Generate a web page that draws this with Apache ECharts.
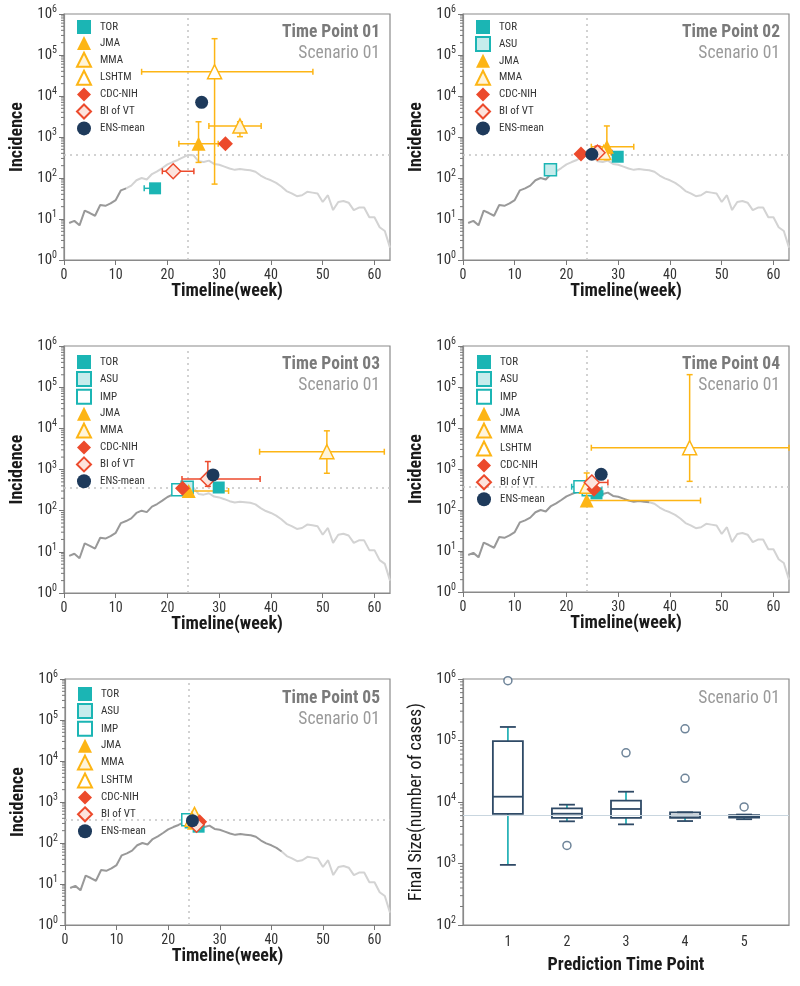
<!DOCTYPE html>
<html><head><meta charset="utf-8">
<script src="https://cdn.jsdelivr.net/npm/echarts@6/dist/echarts.min.js"></script>
<style>html,body{margin:0;padding:0;background:#fff}#c{width:800px;height:986px}</style>
</head><body><div id="c"></div>
<script>
// ---------------- data ----------------
const weeks = [1,2,3,4,5,6,7,8,9,10,11,12,13,14,15,16,17,18,19,20,21,22,23,24,25,26,27,28,29,30,31,32,33,34,35,36,37,38,39,40,41,42,43,44,45,46,47,48,49,50,51,52,53,54,55,56,57,58,59,60,61,62,63];
const incidence = [8,9,7,16,14,12,22,21,24,29,50,56,65,88,100,92,125,145,175,215,245,275,320,365,360,255,245,265,220,210,190,170,158,165,160,155,142,115,98,88,76,62,48,42,36,38,46,44,42,26,38,16.5,26,27.5,25,16.5,19,19,11,11,6.3,5.1,2];
const observedUntil = [12, 18, 24, 36, 42];
const peakWeek = 24;
const peakIncidence = 365;
const panelTitles = ['Time Point 01','Time Point 02','Time Point 03','Time Point 04','Time Point 05'];
const scenarioLabel = 'Scenario 01';

// [model, week, incidence, weekLow, weekHigh, incLow, incHigh]
const tp1Points = [
  ['TOR', 17.6, 56, 15.5, 17.6, null, null],
  ['JMA', 26, 680, 22.2, 29.8, 240, 2350],
  ['MMA', 34, 1860, 28, 38.1, 1020, 2350],
  ['LSHTM', 29.1, 39000, 15, 48.1, 71, 250000],
  ['CDC-NIH', 31.2, 680, null, null, null, null],
  ['BI of VT', 21.1, 146, 19, 25.1, null, null],
  ['ENS-mean', 26.6, 7000, null, null, null, null]
];
const tp2Points = [
  ['TOR', 29.9, 330, null, null, null, null],
  ['ASU', 16.9, 158, null, null, null, null],
  ['JMA', 27.8, 580, 24.8, 33, 280, 1860],
  ['MMA', 27.2, 420, 26, 28.6, 285, 520],
  ['CDC-NIH', 22.8, 385, null, null, null, null],
  ['BI of VT', 26.0, 415, 25, 28.8, 300, 600],
  ['ENS-mean', 24.9, 380, null, null, null, null]
];
const tp3Points = [
  ['TOR', 29.9, 365, null, null, null, null],
  ['ASU', 23.8, 370, null, null, null, null],
  ['IMP', 22.0, 320, null, null, null, null],
  ['JMA', 24.1, 300, 23, 31.8, null, null],
  ['MMA', 50.8, 2700, 37.8, 61.9, 810, 8700],
  ['CDC-NIH', 22.9, 350, null, null, null, null],
  ['BI of VT', 27.8, 590, 22.8, 37.9, 390, 1560],
  ['ENS-mean', 28.8, 740, null, null, null, null]
];
const tp4Points = [
  ['TOR', 25.8, 255, 24.5, 27, null, null],
  ['ASU', 24.2, 310, null, null, null, null],
  ['IMP', 22.6, 370, 21, 24, null, null],
  ['JMA', 23.9, 170, 23.9, 45.9, null, 800],
  ['MMA', 23.9, 380, null, null, null, null],
  ['LSHTM', 43.8, 3300, 24.8, 63, 500, 200000],
  ['CDC-NIH', 25.3, 320, null, null, null, null],
  ['BI of VT', 24.9, 470, 24.1, 28, null, null],
  ['ENS-mean', 26.7, 740, null, null, null, null]
];
const tp5Points = [
  ['TOR', 25.9, 250, null, null, null, null],
  ['ASU', 24.5, 330, null, null, null, null],
  ['IMP', 23.8, 370, null, null, null, null],
  ['JMA', 25, 310, null, null, null, null],
  ['MMA', 25.1, 500, null, null, null, null],
  ['LSHTM', 24.6, 380, null, null, null, null],
  ['CDC-NIH', 26.1, 330, null, null, null, null],
  ['BI of VT', 25.5, 280, null, null, null, null],
  ['ENS-mean', 24.7, 350, null, null, null, null]
];
// final size boxplot: [timePoint, min, q1, median, q3, max]
const boxStats = [
  [1, 950, 6400, 12200, 98000, 166000],
  [2, 4850, 5500, 6450, 7900, 9050],
  [3, 4330, 5500, 7700, 10500, 14700],
  [4, 4900, 5500, 6000, 6800, 6800],
  [5, 5250, 5600, 5900, 6100, 6250]
];
const boxOutliers = [[1, 940000], [2, 1970], [3, 63000], [4, 24300], [4, 155000], [5, 8300]];
const finalSizeObserved = 6070;
const xTicks = [0, 10, 20, 30, 40, 50, 60];
const yTicksIncidence = [1, 10, 100, 1000, 10000, 100000, 1000000];
const yTicksFinal = [100, 1000, 10000, 100000, 1000000];
const timePointTicks = [1, 2, 3, 4, 5];

// ---------------- styles ----------------
const FONT = "'Roboto Condensed','Liberation Sans Narrow','Arial Narrow',Roboto,sans-serif";
const TEAL = '#1BB5B4', AMBER = '#FDB515', RED = '#EC4A2C', NAVY = '#1E3A5B';
const modelOrder = ['TOR','ASU','IMP','JMA','MMA','LSHTM','CDC-NIH','BI of VT','ENS-mean'];
const modelStyle = {
  'TOR':      {symbol:'rect', size:12, fill:TEAL, border:TEAL, bw:0, line:TEAL},
  'ASU':      {symbol:'rect', size:12, fill:'#c6ecec', border:TEAL, bw:1.5, line:TEAL},
  'IMP':      {symbol:'rect', size:12, fill:'#ffffff', border:TEAL, bw:1.5, line:TEAL},
  'JMA':      {symbol:'triangle', size:14, fill:AMBER, border:AMBER, bw:0, line:AMBER},
  'MMA':      {symbol:'triangle', size:14, fill:'#fff4da', border:AMBER, bw:1.5, line:AMBER},
  'LSHTM':    {symbol:'triangle', size:14, fill:'#ffffff', border:AMBER, bw:1.5, line:AMBER},
  'CDC-NIH':  {symbol:'diamond', size:15, fill:RED, border:RED, bw:0, line:RED},
  'BI of VT': {symbol:'diamond', size:15, fill:'#fde3dc', border:RED, bw:1.5, line:RED},
  'ENS-mean': {symbol:'circle', size:13, fill:NAVY, border:NAVY, bw:0, line:NAVY}
};
const allPoints = [tp1Points, tp2Points, tp3Points, tp4Points, tp5Points];

const grids = [
  {left:64, top:14, width:326, height:246},
  {left:463, top:14, width:326, height:246},
  {left:64, top:346, width:326, height:247},
  {left:463, top:346, width:326, height:246},
  {left:65, top:679, width:325, height:246},
  {left:463, top:679, width:326, height:246}
].map(g => Object.assign({show:true, borderColor:'#8a8a8a', borderWidth:1.2, backgroundColor:'transparent'}, g));

const supLabel = v => '{b|10}{s|' + Math.round(Math.log10(v)) + '}';
const richSup = {
  b: {fontSize:15, fontFamily:FONT, color:'#333'},
  s: {fontSize:10, fontFamily:FONT, color:'#333', padding:[0,0,9,0]}
};
const axisLineStyle = {show:true, lineStyle:{color:'#8a8a8a', width:1.2}};

const xAxes = [], yAxes = [], series = [], legends = [], titles = [];

for (let i = 0; i < 5; i++) {
  xAxes.push({
    type:'value', gridIndex:i, min:0, max:63,
    name:'Timeline(week)', nameLocation:'middle', nameGap:22,
    nameTextStyle:{fontSize:18, fontWeight:'bold', color:'#1a1a1a', fontFamily:FONT},
    axisLine:axisLineStyle, splitLine:{show:false},
    axisTick:{show:true, length:5, customValues:xTicks, lineStyle:{color:'#777'}},
    axisLabel:{customValues:xTicks, fontSize:14, color:'#333', fontFamily:FONT, margin:8}
  });
  yAxes.push({
    type:'log', logBase:10, gridIndex:i, min:1, max:1000000,
    name:'Incidence', nameLocation:'middle', nameGap:38,
    nameTextStyle:{fontSize:18, fontWeight:'bold', color:'#1a1a1a', fontFamily:FONT},
    axisLine:axisLineStyle, splitLine:{show:false},
    axisTick:{show:true, length:5, customValues:yTicksIncidence, lineStyle:{color:'#777'}},
    axisLabel:{customValues:yTicksIncidence, formatter:supLabel, rich:richSup, margin:7}
  });
}
xAxes.push({
  type:'value', gridIndex:5, min:0.24, max:5.76,
  name:'Prediction Time Point', nameLocation:'middle', nameGap:31,
  nameTextStyle:{fontSize:18, fontWeight:'bold', color:'#1a1a1a', fontFamily:FONT},
  axisLine:axisLineStyle, splitLine:{show:false},
  axisTick:{show:false, customValues:timePointTicks},
  axisLabel:{customValues:timePointTicks, fontSize:14, color:'#333', fontFamily:FONT, margin:10}
});
yAxes.push({
  type:'log', logBase:10, gridIndex:5, min:100, max:1000000,
  name:'Final Size(number of cases)', nameLocation:'middle', nameGap:38,
  nameTextStyle:{fontSize:18, color:'#1a1a1a', fontFamily:FONT},
  axisLine:axisLineStyle, splitLine:{show:false},
  axisTick:{show:true, length:5, customValues:yTicksFinal, lineStyle:{color:'#777'}},
  axisLabel:{customValues:yTicksFinal, formatter:supLabel, rich:richSup, margin:7}
});

// minor ticks on log axes (axis decoration)
function minorTickSeries(idx, xMin, lo, hi) {
  const vals = [];
  for (let d = lo; d < hi; d *= 10) for (let m = 2; m <= 9; m++) vals.push([xMin, m * d]);
  return {
    type:'custom', xAxisIndex:idx, yAxisIndex:idx, silent:true, clip:false, data:vals,
    encode:{x:0, y:1},
    renderItem:(p, api) => {
      const c = api.coord([api.value(0), api.value(1)]);
      return {type:'line', shape:{x1:c[0]-3, y1:c[1], x2:c[0], y2:c[1]}, style:{stroke:'#777', lineWidth:1}};
    }
  };
}

const num = v => (v === null || v === undefined) ? NaN : v;

for (let i = 0; i < 5; i++) {
  const cut = observedUntil[i];
  const obs = [], rest = [];
  weeks.forEach((w, k) => {
    if (w <= cut) obs.push([w, incidence[k]]);
    if (w >= cut) rest.push([w, incidence[k]]);
  });
  series.push({
    type:'line', xAxisIndex:i, yAxisIndex:i, data:rest, symbol:'none', silent:true, z:1,
    lineStyle:{color:'#d3d3d3', width:2}
  });
  series.push({
    type:'line', xAxisIndex:i, yAxisIndex:i, data:obs, symbol:'none', silent:true, z:1,
    lineStyle:{color:'#999999', width:2},
    markLine:{
      silent:true, symbol:['none','none'], label:{show:false}, animation:false, z:1,
      lineStyle:{color:'#c4c4c4', type:[2,4], width:1.5},
      data:[{xAxis:peakWeek}, {yAxis:peakIncidence}]
    }
  });
  series.push(minorTickSeries(i, 0, 1, 1000000));

  const pts = allPoints[i];
  // error bars
  series.push({
    type:'custom', xAxisIndex:i, yAxisIndex:i, silent:true, z:3,
    data: pts.filter(p => p[3] !== null || p[5] !== null || p[6] !== null)
             .map(p => [p[1], p[2], num(p[3]), num(p[4]), num(p[5]), num(p[6]), modelOrder.indexOf(p[0])]),
    encode:{x:0, y:1},
    renderItem:(params, api) => {
      const x = api.value(0), y = api.value(1);
      const xl = api.value(2), xh = api.value(3), yl = api.value(4), yh = api.value(5);
      const col = modelStyle[modelOrder[api.value(6)]].line;
      const st = {stroke:col, lineWidth:1.5};
      const ch = [];
      const cap = 3;
      if (!isNaN(xl) || !isNaN(xh)) {
        const a = api.coord([isNaN(xl) ? x : xl, y]), b = api.coord([isNaN(xh) ? x : xh, y]);
        ch.push({type:'line', shape:{x1:a[0], y1:a[1], x2:b[0], y2:b[1]}, style:st});
        if (!isNaN(xl)) ch.push({type:'line', shape:{x1:a[0], y1:a[1]-cap, x2:a[0], y2:a[1]+cap}, style:st});
        if (!isNaN(xh)) ch.push({type:'line', shape:{x1:b[0], y1:b[1]-cap, x2:b[0], y2:b[1]+cap}, style:st});
      }
      if (!isNaN(yl) || !isNaN(yh)) {
        const a = api.coord([x, isNaN(yl) ? y : yl]), b = api.coord([x, isNaN(yh) ? y : yh]);
        ch.push({type:'line', shape:{x1:a[0], y1:a[1], x2:b[0], y2:b[1]}, style:st});
        if (!isNaN(yl)) ch.push({type:'line', shape:{x1:a[0]-cap, y1:a[1], x2:a[0]+cap, y2:a[1]}, style:st});
        if (!isNaN(yh)) ch.push({type:'line', shape:{x1:b[0]-cap, y1:b[1], x2:b[0]+cap, y2:b[1]}, style:st});
      }
      return {type:'group', children:ch};
    }
  });
  // markers
  pts.forEach(p => {
    const s = modelStyle[p[0]];
    series.push({
      type:'scatter', name:p[0], xAxisIndex:i, yAxisIndex:i, z:4,
      data:[[p[1], p[2]]], symbol:s.symbol, symbolSize:s.size,
      itemStyle:{color:s.fill, borderColor:s.border, borderWidth:s.bw, opacity:1}
    });
  });
}

// legend & title placement per panel
const legendPos = [[76,20],[475,20],[76,355],[476,355],[77,687]];
const titleRight = [420, 20, 420, 20, 420];
const titleTop = [24, 24, 356, 356, 690];
for (let i = 0; i < 5; i++) {
  legends.push({
    orient:'vertical', left:legendPos[i][0], top:legendPos[i][1], padding:0, z:10,
    itemWidth:14, itemHeight:14, itemGap:1.9, selectedMode:false,
    data: allPoints[i].map(p => p[0]),
    textStyle:{fontSize:11, color:'#333', fontFamily:FONT, padding:[0,0,0,4]}
  });
  titles.push({
    text:panelTitles[i], right:titleRight[i], top:titleTop[i], padding:0,
    textStyle:{fontSize:17.5, fontWeight:'bold', color:'#7a7a7a', fontFamily:FONT, lineHeight:18}
  });
  titles.push({
    text:scenarioLabel, right:titleRight[i], top:titleTop[i] + 21, padding:0,
    textStyle:{fontSize:17.5, fontWeight:'normal', color:'#9a9a9a', fontFamily:FONT, lineHeight:18}
  });
}
titles.push({
  text:scenarioLabel, right:20, top:690, padding:0,
  textStyle:{fontSize:17.5, fontWeight:'normal', color:'#9a9a9a', fontFamily:FONT, lineHeight:18}
});

// boxplot panel
series.push({
  type:'line', xAxisIndex:5, yAxisIndex:5, data:[], silent:true,
  markLine:{silent:true, symbol:['none','none'], label:{show:false}, animation:false,
    lineStyle:{color:'#c9d6df', type:'solid', width:1.2}, data:[{yAxis:finalSizeObserved}]}
});
series.push(minorTickSeries(5, 0.24, 100, 1000000));
series.push({
  type:'custom', xAxisIndex:5, yAxisIndex:5, silent:true, z:3, data:boxStats,
  encode:{x:0, y:[1,2,3,4,5]},
  renderItem:(params, api) => {
    const x = api.value(0);
    const mn = api.value(1), q1 = api.value(2), md = api.value(3), q3 = api.value(4), mx = api.value(5);
    const hw = 0.254, cw = 0.135;
    const boxC = '#2F4A66', whC = '#2BB3B8';
    const pMin = api.coord([x, mn]), pQ1 = api.coord([x, q1]), pMd = api.coord([x, md]), pQ3 = api.coord([x, q3]), pMx = api.coord([x, mx]);
    const xl = api.coord([x - hw, md])[0], xr = api.coord([x + hw, md])[0];
    const cl = api.coord([x - cw, md])[0], cr = api.coord([x + cw, md])[0];
    return {type:'group', children:[
      {type:'line', shape:{x1:pMin[0], y1:pMin[1], x2:pQ1[0], y2:pQ1[1]}, style:{stroke:whC, lineWidth:1.8}},
      {type:'line', shape:{x1:pQ3[0], y1:pQ3[1], x2:pMx[0], y2:pMx[1]}, style:{stroke:whC, lineWidth:1.8}},
      {type:'line', shape:{x1:cl, y1:pMin[1], x2:cr, y2:pMin[1]}, style:{stroke:boxC, lineWidth:1.8}},
      {type:'line', shape:{x1:cl, y1:pMx[1], x2:cr, y2:pMx[1]}, style:{stroke:boxC, lineWidth:1.8}},
      {type:'rect', shape:{x:xl, y:pQ3[1], width:xr - xl, height:pQ1[1] - pQ3[1]}, style:{fill:'rgba(255,255,255,0)', stroke:boxC, lineWidth:1.8}},
      {type:'line', shape:{x1:xl, y1:pMd[1], x2:xr, y2:pMd[1]}, style:{stroke:boxC, lineWidth:1.8}}
    ]};
  }
});
series.push({
  type:'scatter', xAxisIndex:5, yAxisIndex:5, z:4, data:boxOutliers, symbol:'circle', symbolSize:8,
  itemStyle:{color:'#ffffff', borderColor:'#4a6580', borderWidth:1.5}
});

const chart = echarts.init(document.getElementById('c'));
chart.setOption({
  animation:false,
  backgroundColor:'#ffffff',
  textStyle:{fontFamily:FONT},
  title:titles,
  legend:legends,
  grid:grids,
  xAxis:xAxes,
  yAxis:yAxes,
  series:series
});
</script>
</body></html>
